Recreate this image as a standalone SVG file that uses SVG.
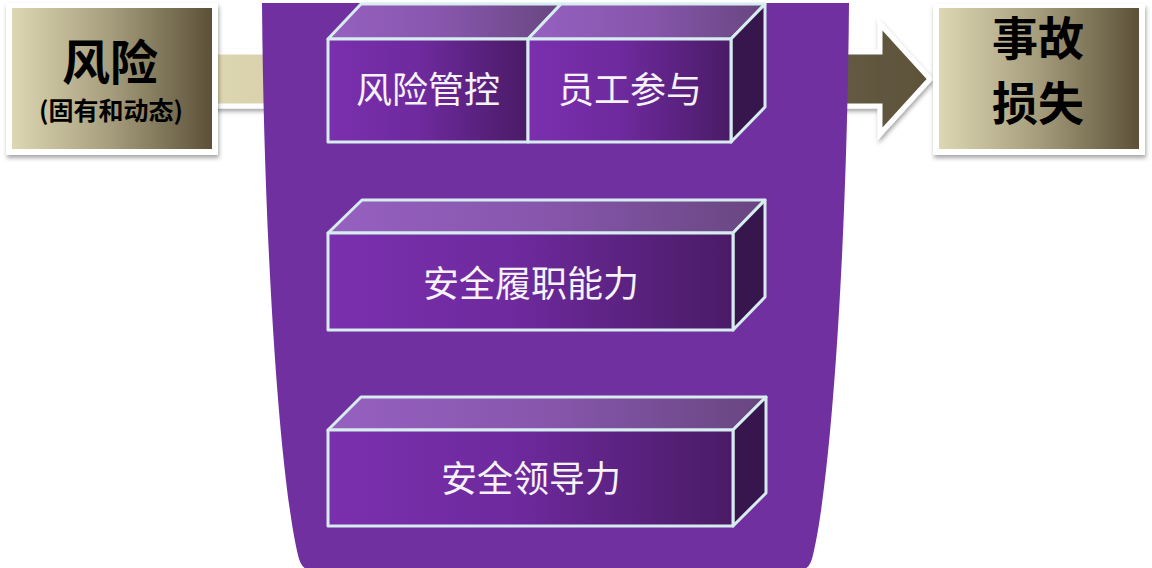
<svg xmlns="http://www.w3.org/2000/svg" width="1152" height="568" viewBox="0 0 1152 568">
<defs>
<linearGradient id="gBox" x1="0" y1="0" x2="1" y2="0">
<stop offset="0" stop-color="#ddd7b2"/>
<stop offset="0.5" stop-color="#a59c7c"/>
<stop offset="1" stop-color="#5c5138"/>
</linearGradient>
<linearGradient id="gArrow" gradientUnits="userSpaceOnUse" x1="212" y1="0" x2="932" y2="0">
<stop offset="0" stop-color="#ddd7b2"/>
<stop offset="0.08" stop-color="#d8d1ab"/>
<stop offset="0.85" stop-color="#665c46"/>
<stop offset="1" stop-color="#5c5239"/>
</linearGradient>
<linearGradient id="gFront" x1="0" y1="0" x2="1" y2="0">
<stop offset="0" stop-color="#7b2fae"/>
<stop offset="0.45" stop-color="#6e2a9e"/>
<stop offset="1" stop-color="#4a1b66"/>
</linearGradient>
<linearGradient id="gTop" x1="0" y1="0" x2="1" y2="0">
<stop offset="0" stop-color="#9660c0"/>
<stop offset="0.5" stop-color="#8756ac"/>
<stop offset="1" stop-color="#684680"/>
</linearGradient>
<filter id="shadow" x="-10%" y="-10%" width="125%" height="130%">
<feDropShadow dx="1" dy="3" stdDeviation="2" flood-color="#000" flood-opacity="0.35"/>
</filter>
</defs>
<style>
.frame{fill:#ffffff;filter:url(#shadow)}
.inner{fill:url(#gBox)}
.big{font-family:"Noto Sans CJK SC","Liberation Sans",sans-serif;font-weight:bold;fill:#000;text-anchor:middle}
.front{fill:url(#gFront);stroke:#d6ecee;stroke-width:3;stroke-linejoin:round}
.top{fill:url(#gTop);stroke:#d6ecee;stroke-width:3;stroke-linejoin:round}
.side{fill:#36164c;stroke:#d6ecee;stroke-width:3;stroke-linejoin:round}
.lbl{font-family:"Noto Sans CJK SC",sans-serif;font-size:36px;fill:#f6f2fa;text-anchor:middle}
</style>
<rect width="1152" height="568" fill="#ffffff"/>

<g id="connectors">
<path d="M212,52 L880,52 L880,24 L930,79 L880,134 L880,106 L212,106 Z" fill="url(#gArrow)" stroke="#ffffff" stroke-width="5" stroke-linejoin="miter" filter="url(#shadow)"/>
</g>

<g id="node-risk">
<rect class="frame" x="6" y="3" width="212" height="152"/>
<rect class="inner" x="12" y="8" width="200" height="141"/>
<text class="big" x="110" y="80" font-size="48">风险</text>
<text class="big" x="111" y="120" font-size="25">(固有和动态)</text>
</g>

<g id="node-loss">
<rect class="frame" x="933" y="4" width="212" height="151"/>
<rect class="inner" x="939" y="8" width="200" height="141"/>
<text class="big" x="1038" y="55" font-size="46">事故</text>
<text class="big" x="1038" y="120" font-size="46">损失</text>
</g>

<g id="node-container">
<path d="M262,3 L849,3 C847,250 831,480 813,555 Q810,570 800,570 L311,570 Q301,570 298,555 C280,480 264,250 262,3 Z" fill="#7030a0"/>
</g>

<g id="node-risk-control">
<polygon class="top" points="328,39 361,4 561,4 528,39"/>
<rect class="front" x="328" y="39" width="200" height="103"/>
<text class="lbl" x="428" y="103">风险管控</text>
</g>

<g id="node-employee">
<polygon class="top" points="528,39 561,4 765,4 731,39"/>
<polygon class="side" points="731,39 765,4 765,107 731,142"/>
<rect class="front" x="528" y="39" width="203" height="103"/>
<text class="lbl" x="630" y="103">员工参与</text>
</g>

<g id="node-duty">
<polygon class="top" points="328,233 362,200 765,200 733,233"/>
<polygon class="side" points="733,233 765,200 765,297 733,330"/>
<rect class="front" x="328" y="233" width="405" height="97"/>
<text class="lbl" x="531" y="297" font-size="37">安全履职能力</text>
</g>

<g id="node-leadership">
<polygon class="top" points="328,430 361,397 766,397 733,430"/>
<polygon class="side" points="733,430 766,397 766,493 733,526"/>
<rect class="front" x="328" y="430" width="405" height="96"/>
<text class="lbl" x="531" y="492" font-size="37">安全领导力</text>
</g>
</svg>
